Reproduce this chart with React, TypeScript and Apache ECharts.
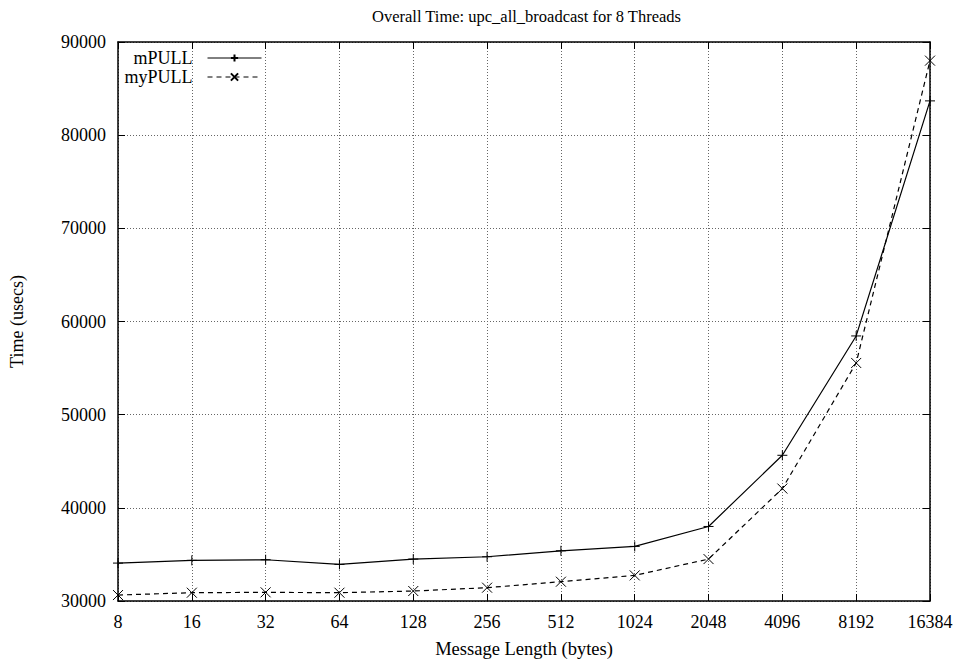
import React, { useEffect, useRef } from "react";
import * as echarts from "echarts";

const categories = ["8", "16", "32", "64", "128", "256", "512", "1024", "2048", "4096", "8192", "16384"];
const mPULL = [34070, 34360, 34430, 33930, 34500, 34750, 35390, 35860, 38000, 45640, 58450, 83680];
const myPULL = [30640, 30890, 30930, 30890, 31070, 31430, 32070, 32750, 34500, 42070, 55550, 88000];

const FONT = "Liberation Serif";
const FS = 18;

export default function App() {
  const ref = useRef<HTMLDivElement>(null);
  useEffect(() => {
    const chart = echarts.init(ref.current!, null, { renderer: "svg" });
    const plusSym = "path://M0,5L10,5M5,0L5,10";
    const crossSym = "path://M0,0L10,10M10,0L0,10";
    const gridLine = { show: true, lineStyle: { color: "#666", type: [1, 2] as any, width: 1 } };
    const legendCommon = {
      right: 696,
      align: "right",
      padding: 0,
      itemWidth: 54,
      itemHeight: 9,
      lineStyle: { width: 1 },
      textStyle: {
        fontFamily: FONT,
        fontSize: FS,
        lineHeight: 17,
        color: "#000",
        padding: [0, 10, 0, 0],
      },
    };
    chart.setOption({
      animation: false,
      backgroundColor: "#fff",
      textStyle: { fontFamily: FONT, color: "#000" },
      title: {
        text: "Overall Time: upc_all_broadcast for 8 Threads",
        left: 367,
        top: 3,
        textStyle: { fontFamily: FONT, fontSize: 16.5, fontWeight: "normal", color: "#000" },
      },
      legend: [
        { ...legendCommon, data: ["mPULL"], top: 49 },
        { ...legendCommon, data: ["myPULL"], top: 68 },
      ],
      grid: { left: 118, right: 28, top: 42, bottom: 61, containLabel: false },
      xAxis: [
        {
          type: "category",
          data: categories,
          boundaryGap: false,
          name: "Message Length (bytes)",
          nameLocation: "middle",
          nameGap: 38,
          nameTextStyle: { fontFamily: FONT, fontSize: 18.5, color: "#000" },
          axisLine: { show: true, lineStyle: { color: "#000", width: 1.5 } },
          axisTick: { show: true, inside: true, length: 7, lineStyle: { color: "#000" } },
          axisLabel: { fontFamily: FONT, fontSize: FS, color: "#000", margin: 12 },
          splitLine: gridLine,
        },
        {
          type: "category",
          data: categories,
          boundaryGap: false,
          position: "top",
          axisLine: { show: true, lineStyle: { color: "#000", width: 1.5 } },
          axisTick: { show: true, inside: true, length: 7, lineStyle: { color: "#000" } },
          axisLabel: { show: false },
          splitLine: { show: false },
        },
      ],
      yAxis: [
        {
          type: "value",
          min: 30000,
          max: 90000,
          interval: 10000,
          name: "Time (usecs)",
          nameLocation: "middle",
          nameGap: 92,
          nameTextStyle: { fontFamily: FONT, fontSize: FS, color: "#000" },
          axisLine: { show: true, lineStyle: { color: "#000", width: 1.5 } },
          axisTick: { show: true, inside: true, length: 7, lineStyle: { color: "#000" } },
          axisLabel: {
            fontFamily: FONT,
            fontSize: FS,
            color: "#000",
            margin: 12,
            formatter: (v: number) => String(v),
          },
          splitLine: gridLine,
        },
        {
          type: "value",
          min: 30000,
          max: 90000,
          interval: 10000,
          position: "right",
          axisLine: { show: true, lineStyle: { color: "#000", width: 1.5 } },
          axisTick: { show: true, inside: true, length: 7, lineStyle: { color: "#000" } },
          axisLabel: { show: false },
          splitLine: { show: false },
        },
      ],
      series: [
        {
          name: "mPULL",
          type: "line",
          data: mPULL,
          symbol: plusSym,
          symbolSize: 10,
          showAllSymbol: true,
          itemStyle: { color: "#000", borderColor: "#000", borderWidth: 1 },
          lineStyle: { color: "#000", width: 1.2, type: "solid" },
          z: 3,
        },
        {
          name: "myPULL",
          type: "line",
          data: myPULL,
          symbol: crossSym,
          symbolSize: 10,
          showAllSymbol: true,
          itemStyle: { color: "#000", borderColor: "#000", borderWidth: 1 },
          lineStyle: { color: "#000", width: 1.2, type: [5, 4] as any },
          z: 3,
        },
      ],
    });
    return () => chart.dispose();
  }, []);
  return (
    <div
      ref={ref}
      style={{ position: "fixed", left: 0, top: 0, width: 958, height: 663, background: "#fff" }}
    />
  );
}
